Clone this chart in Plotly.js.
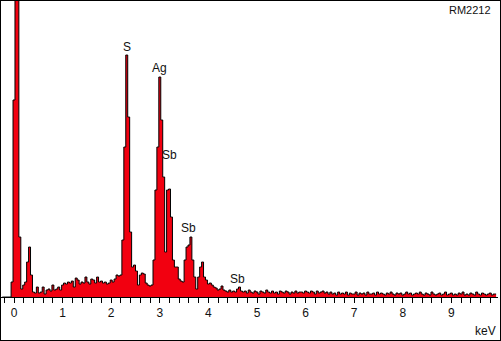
<!DOCTYPE html>
<html>
<head>
<meta charset="utf-8">
<script src="https://cdn.plot.ly/plotly-3.0.1.min.js"></script>
<style>
html,body{margin:0;padding:0;background:#fff;}
#chart{width:501px;height:341px;box-sizing:border-box;border:1px solid #000;}
</style>
</head>
<body>
<div id="chart"></div>
<script>
// channel layout (keV)
const energyStart = -0.24;
const channelWidth = 0.04;

// counts per channel
const countsLow = [0,0,0,0,0,15,197,1500,1500,60,8,12,15,35,50,22,5,4,10,4,5,10,3,7,8,6,12,7,8,10,
  7,12,14,13,15,14,16,10,19,17,13,15,14,20,15,13,18,17,14,20,15,16,14,15,13,14,17,15,18,22,21];
const countsPeaks = [22,57,150,242,180,65,30,32,26,12,22,24,23,14,12,11,12,37,107,150,220,177,120,45,107,108,80,37,30,30,
  18,16,15,37,50,52,60,37,20,8,20,30,35,20,17,13,14,12,10,9,7,8,11,7,6,5,7,5,6,5,8,10,6];
const countsTail = [5,6,4,7,5,4,6,5,3,6,5,4,7,5,4,6,4,5,3,6,5,4,6,5,3,5,4,6,4,5,
  5,4,6,5,4,6,5,3,6,4,5,6,4,5,3,5,
  3,4,2,5,3,4,3,5,2,4,3,3,5,2,4,3,4,2,5,3,3,4,2,5,3,4,3,2,4,3,5,3,2,4,3,4,2,3,5,3,4,2,3,4,3,5,
  3,2,4,3,2,5,3,2,3,4,2,3,5,2,3,4,2,3,2,4,3,5,2,3,2,4,3,2,5,3,2,4,3,2,3,4,2,3,3];
const counts = countsLow.concat(countsPeaks, countsTail);

// labels
const peakLabels = ["S", "Ag", "Sb", "Sb", "Sb"];
const peakLabelX = [2.32, 3.0, 3.19, 3.60, 4.59];
const peakLabelY = [250, 229, 142, 69, 18];
const sampleName = "RM2212";
const axisUnit = "keV";
const tickValues = [0,1,2,3,4,5,6,7,8,9];
const tickLabels = ["0","1","2","3","4","5","6","7","8","9"];

const trace = {
  type: 'scatter',
  mode: 'lines',
  x0: energyStart,
  dx: channelWidth,
  y: counts,
  line: {color: '#000', width: 1, shape: 'hvh'},
  fill: 'tozeroy',
  fillcolor: '#f20010',
  hoverinfo: 'skip'
};

const font = {family: 'Liberation Sans, Arial, sans-serif', size: 12, color: '#111'};
const annotations = peakLabels.map((t, i) => ({
  x: peakLabelX[i], y: peakLabelY[i], xref: 'x', yref: 'y', text: t,
  showarrow: false, xanchor: 'center', yanchor: 'middle', font: font
}));
annotations.push({x: 9.38, y: 287, xref: 'x', yref: 'y', text: sampleName, showarrow: false,
  xanchor: 'center', yanchor: 'middle', font: {family: font.family, size: 11, color: '#111'}});
annotations.push({x: 1.0, y: -0.115, xref: 'paper', yref: 'paper', text: axisUnit, showarrow: false,
  xanchor: 'right', yanchor: 'middle', font: font});

const layout = {
  width: 499, height: 339,
  margin: {l: 0, r: 2, t: 0, b: 43, pad: 0},
  paper_bgcolor: '#fff', plot_bgcolor: '#fff',
  showlegend: false,
  xaxis: {
    range: [-0.2675, 9.959],
    showgrid: false, zeroline: false,
    showline: true, linecolor: '#000', linewidth: 1,
    ticks: 'outside', ticklen: 5, tickcolor: '#000', tickwidth: 1,
    tickvals: tickValues, ticktext: tickLabels,
    tickfont: font,
    minor: {dtick: 0.2, tick0: 0, ticks: 'outside', ticklen: 5, tickcolor: '#000', tickwidth: 1, showgrid: false},
    fixedrange: true
  },
  yaxis: {
    range: [0, 296], visible: false, fixedrange: true
  },
  annotations: annotations
};

Plotly.newPlot('chart', [trace], layout, {staticPlot: true, displayModeBar: false});
</script>
</body>
</html>
